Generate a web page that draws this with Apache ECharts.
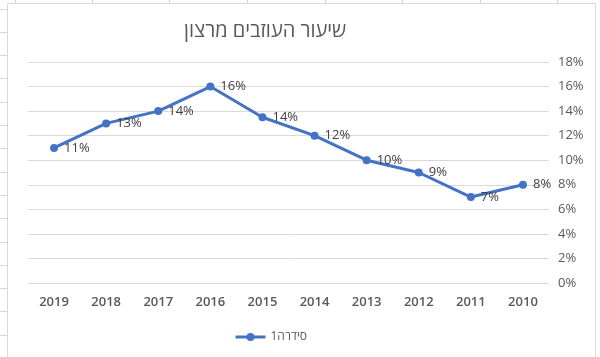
<!DOCTYPE html>
<html>
<head>
<meta charset="utf-8">
<script src="https://cdn.jsdelivr.net/npm/echarts@6/dist/echarts.min.js"></script>
<style>
html,body{margin:0;padding:0;background:#fff;}
#chart{width:600px;height:357px;}
</style>
</head>
<body>
<div id="chart"></div>
<script>
const titleText = 'שיעור העוזבים מרצון';
const seriesName = 'סידרה1';
const categories = ['2019','2018','2017','2016','2015','2014','2013','2012','2011','2010'];
const values = [0.11, 0.13, 0.14, 0.16, 0.135, 0.12, 0.10, 0.09, 0.07, 0.08];
const yTicks = {min: 0, max: 0.18, interval: 0.02};

const chart = echarts.init(document.getElementById('chart'), null, {renderer: 'canvas'});

// spreadsheet cell lines around the embedded chart
const deco = [];
for (let y = 8.5; y < 357; y += 23.3) {
  deco.push({type: 'line', shape: {x1: 0, y1: Math.round(y) + 0.5, x2: 7, y2: Math.round(y) + 0.5}, style: {stroke: '#d4d4d4', lineWidth: 1}, silent: true});
}
[15, 92, 169, 247, 325, 402, 480, 557].forEach(x => {
  deco.push({type: 'line', shape: {x1: x + 0.5, y1: 0, x2: x + 0.5, y2: 3}, style: {stroke: '#d4d4d4', lineWidth: 1}, silent: true});
});
deco.push({type: 'rect', shape: {x: 7.5, y: 3.5, width: 588, height: 360}, style: {fill: 'none', stroke: '#d9d9d9', lineWidth: 1}, silent: true});

const font = '"Segoe UI", "Open Sans", "Liberation Sans", "DejaVu Sans", sans-serif';

chart.setOption({
  animation: false,
  backgroundColor: '#ffffff',
  graphic: deco,
  title: {
    text: titleText,
    left: 184,
    top: 21,
    padding: 0,
    textStyle: {fontFamily: font, fontSize: 20, fontWeight: 'normal', color: '#595959'}
  },
  legend: {
    data: [seriesName],
    left: 229,
    top: 326,
    itemWidth: 30,
    itemHeight: 10,
    itemGap: 2,
    lineStyle: {width: 3},
    textStyle: {fontFamily: font, fontSize: 12, color: '#595959'}
  },
  grid: {left: 28, right: 51, top: 62, bottom: 74, containLabel: false},
  xAxis: {
    type: 'category',
    data: categories,
    boundaryGap: true,
    axisLine: {show: false},
    axisTick: {show: false},
    axisLabel: {fontFamily: font, fontSize: 13, color: '#595959', margin: 13, fontWeight: 600}
  },
  yAxis: {
    type: 'value',
    position: 'right',
    min: yTicks.min,
    max: yTicks.max,
    interval: yTicks.interval,
    axisLine: {show: false},
    axisTick: {show: false},
    splitLine: {lineStyle: {color: '#d9d9d9', width: 1}},
    axisLabel: {
      fontFamily: font, fontSize: 13, color: '#595959', margin: 9,
      formatter: v => Math.round(v * 100) + '%'
    }
  },
  series: [{
    name: seriesName,
    type: 'line',
    data: values,
    symbol: 'circle',
    symbolSize: 8,
    lineStyle: {color: '#4472C4', width: 3},
    itemStyle: {color: '#4472C4'},
    label: {
      show: true,
      position: 'right',
      distance: 6,
      fontFamily: font,
      fontSize: 13,
      color: '#404040',
      formatter: p => Math.round(p.value * 100) + '%'
    }
  }]
});
</script>
</body>
</html>
